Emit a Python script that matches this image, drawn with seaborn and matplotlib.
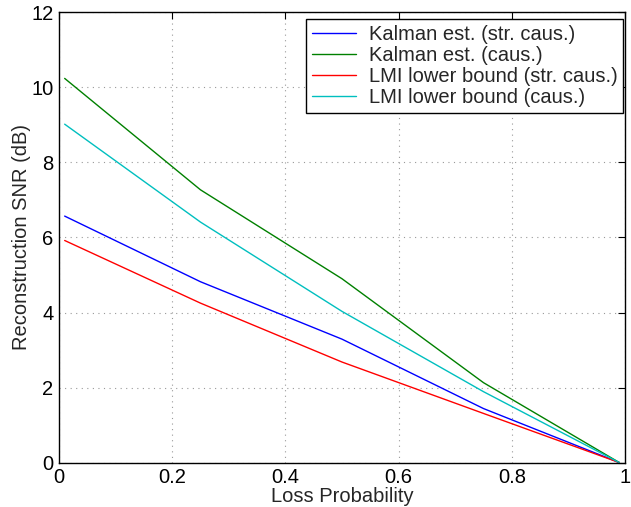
import numpy as np
import pandas as pd
import seaborn as sns
import matplotlib
matplotlib.use("Agg")
import matplotlib.pyplot as plt

# --- DATA ---
loss_prob = [0.01, 0.25, 0.5, 0.75, 0.99]
kalman_str_caus = [6.57, 4.82, 3.29, 1.44, 0.0]
kalman_caus = [10.24, 7.27, 4.90, 2.13, 0.0]
lmi_str_caus = [5.92, 4.25, 2.68, 1.31, 0.0]
lmi_caus = [9.02, 6.41, 4.03, 1.89, 0.0]

series_names = [
    "Kalman est. (str. caus.)",
    "Kalman est. (caus.)",
    "LMI lower bound (str. caus.)",
    "LMI lower bound (caus.)",
]
series_colors = ["#0000ff", "#008000", "#ff0000", "#00bfbf"]

x_ticks = [0, 0.2, 0.4, 0.6, 0.8, 1]
x_tick_labels = ["0", "0.2", "0.4", "0.6", "0.8", "1"]
y_ticks = [0, 2, 4, 6, 8, 10, 12]

# long format table for seaborn
frames = []
for name, vals in zip(series_names, [kalman_str_caus, kalman_caus, lmi_str_caus, lmi_caus]):
    frames.append(pd.DataFrame({"Loss Probability": loss_prob, "SNR": vals, "series": name}))
df = pd.concat(frames, ignore_index=True)

# --- PLOT ---
sns.set_style("white")
plt.rcParams["font.family"] = ["Liberation Sans", "DejaVu Sans"]

fig = plt.figure(figsize=(6.31, 5.07), dpi=100)
ax = fig.add_axes([0.0935, 0.0876, 0.897, 0.888])

sns.lineplot(data=df, x="Loss Probability", y="SNR", hue="series",
             hue_order=series_names, palette=series_colors,
             linewidth=1.0, ax=ax, sort=False)

ax.set_xlim(0, 1)
ax.set_ylim(0, 12)
ax.set_xticks(x_ticks)
ax.set_xticklabels(x_tick_labels)
ax.set_yticks(y_ticks)
ax.tick_params(direction="in", length=5, width=0.8, labelsize=14.5,
               top=True, right=True, pad=4, colors="black")
ax.grid(True, linestyle=(0, (1, 4)), color="#999999", linewidth=0.8)
for sp in ax.spines.values():
    sp.set_color("black")
    sp.set_linewidth(1.0)

ax.set_xlabel("Loss Probability", fontsize=14.5, labelpad=0)
ax.set_ylabel("Reconstruction SNR (dB)", fontsize=14.5, labelpad=0)

leg = ax.legend(loc="upper right", bbox_to_anchor=(0.997, 0.986), fontsize=14.5,
                frameon=True, fancybox=False,
                handlelength=2.2, handletextpad=0.6, labelspacing=0.1,
                borderpad=0.3, borderaxespad=0, framealpha=1)
leg.get_frame().set_edgecolor("black")
leg.get_frame().set_linewidth(1.0)

fig.savefig("out.png", dpi=100)
